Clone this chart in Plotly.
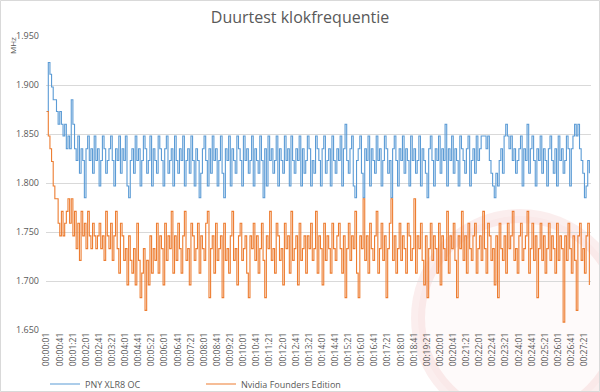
import plotly.graph_objects as go

pny_xlr8_oc = [
    1873, 1923, 1911, 1898, 1885, 1885, 1873, 1860, 1873, 1860, 1848, 1860, 1835, 1848, 1835, 1885, 1860, 1835,
    1823, 1848, 1810, 1835, 1823, 1785, 1835, 1848, 1823, 1835, 1810, 1848, 1823, 1835, 1797, 1823, 1848, 1835, 1810, 1823, 1835, 1848, 1823, 1797, 1835, 1823, 1848, 1810,
    1835, 1823, 1848, 1797, 1785, 1823, 1835, 1810, 1848, 1823, 1835, 1797, 1823, 1848, 1835, 1810, 1823, 1848, 1797, 1835,
    1823, 1810, 1848, 1835, 1823, 1797, 1835, 1848, 1810, 1823, 1835, 1797, 1848, 1823, 1810, 1835, 1823, 1848, 1797, 1823,
    1835, 1810, 1848, 1823, 1797, 1835, 1823, 1785, 1810, 1835, 1848, 1823, 1797, 1835, 1810, 1848, 1823, 1835, 1797, 1823,
    1848, 1810, 1785, 1835, 1823, 1848, 1797, 1835, 1823, 1810, 1848, 1835, 1823, 1797, 1848, 1823, 1835, 1810, 1823, 1848,
    1797, 1835, 1823, 1810, 1848, 1823, 1785, 1835, 1797, 1848, 1823, 1835, 1810, 1823, 1848, 1797, 1835, 1823, 1810, 1848,
    1823, 1835, 1797, 1848, 1823, 1810, 1835, 1823, 1848, 1797, 1835, 1810, 1823, 1848, 1835, 1797, 1823, 1810, 1848, 1835,
    1823, 1797, 1835, 1848, 1810, 1823, 1835, 1797, 1848, 1823, 1810, 1835, 1823, 1848, 1797, 1835, 1860, 1823, 1810, 1835,
    1848, 1797, 1785, 1823, 1835, 1848, 1810, 1785, 1835, 1823, 1848, 1797, 1835, 1823, 1810, 1848, 1823, 1835, 1797, 1823,
    1848, 1835, 1810, 1823, 1785, 1835, 1848, 1823, 1797, 1835, 1823, 1848, 1810, 1835, 1823, 1797, 1848, 1823, 1835, 1810,
    1823, 1848, 1797, 1835, 1823, 1810, 1785, 1835, 1848, 1823, 1797, 1835, 1823, 1848, 1810, 1835, 1823, 1860, 1797, 1835,
    1823, 1848, 1810, 1835, 1823, 1797, 1848, 1835, 1823, 1810, 1835, 1848, 1797, 1823, 1835, 1810, 1848, 1823, 1835, 1848,
    1848, 1848, 1835, 1848, 1823, 1810, 1797, 1785, 1810, 1797, 1823, 1835, 1810, 1848, 1860, 1848, 1835, 1848, 1823, 1835,
    1810, 1823, 1835, 1848, 1797, 1835, 1823, 1860, 1810, 1835, 1848, 1823, 1797, 1835, 1823, 1848, 1810, 1835, 1823, 1797,
    1835, 1848, 1823, 1810, 1835, 1797, 1848, 1823, 1835, 1810, 1823, 1848, 1835, 1797, 1835, 1848, 1860, 1848, 1860, 1835,
    1823, 1810, 1785, 1797, 1823, 1810,
]

nvidia_founders = [
    1873, 1848, 1835, 1822, 1797, 1784, 1784, 1759, 1746, 1771, 1746, 1759, 1771, 1784, 1759, 1784, 1746, 1771,
    1733, 1759, 1721, 1771, 1746, 1759, 1733, 1771, 1746, 1733, 1759, 1746, 1733, 1746, 1759, 1733, 1746, 1721, 1771, 1746,
    1733, 1759, 1721, 1746, 1771, 1733, 1708, 1759, 1746, 1721, 1733, 1696, 1746, 1721, 1708, 1733, 1696, 1759, 1721, 1683,
    1708, 1733, 1670, 1721, 1696, 1746, 1708, 1733, 1721, 1759, 1708, 1746, 1733, 1696, 1759, 1721, 1746, 1733, 1771, 1708,
    1746, 1721, 1759, 1733, 1708, 1746, 1771, 1721, 1733, 1696, 1759, 1746, 1721, 1733, 1759, 1708, 1746, 1733, 1721, 1759,
    1771, 1683, 1733, 1746, 1708, 1759, 1721, 1733, 1746, 1683, 1759, 1721, 1733, 1708, 1746, 1771, 1721, 1733, 1696, 1746,
    1759, 1721, 1733, 1746, 1708, 1683, 1746, 1733, 1759, 1721, 1746, 1708, 1733, 1759, 1721, 1683, 1746, 1733, 1771, 1721,
    1733, 1708, 1759, 1746, 1721, 1733, 1696, 1759, 1733, 1746, 1708, 1771, 1721, 1733, 1746, 1696, 1759, 1721, 1733, 1746,
    1708, 1746, 1733, 1759, 1721, 1733, 1771, 1708, 1746, 1733, 1696, 1759, 1721, 1746, 1733, 1708, 1759, 1733, 1721, 1746,
    1759, 1733, 1708, 1746, 1683, 1733, 1759, 1721, 1746, 1733, 1771, 1708, 1683, 1746, 1733, 1784, 1721, 1746, 1708, 1759,
    1733, 1721, 1746, 1771, 1708, 1733, 1759, 1721, 1746, 1683, 1733, 1759, 1784, 1721, 1746, 1708, 1733, 1759, 1721, 1746,
    1733, 1708, 1759, 1746, 1721, 1733, 1784, 1708, 1746, 1733, 1759, 1721, 1696, 1746, 1683, 1733, 1759, 1721, 1746, 1733,
    1708, 1759, 1696, 1746, 1733, 1721, 1771, 1708, 1746, 1733, 1759, 1721, 1683, 1746, 1733, 1771, 1721, 1746, 1708, 1759,
    1733, 1721, 1746, 1759, 1708, 1733, 1746, 1721, 1771, 1733, 1708, 1759, 1746, 1721, 1733, 1696, 1746, 1683, 1759, 1733,
    1721, 1746, 1708, 1759, 1733, 1746, 1771, 1721, 1733, 1708, 1746, 1759, 1721, 1733, 1746, 1771, 1708, 1733, 1759, 1721,
    1746, 1683, 1733, 1759, 1721, 1746, 1708, 1733, 1759, 1721, 1746, 1733, 1708, 1759, 1721, 1746, 1733, 1658, 1746, 1721,
    1759, 1733, 1708, 1746, 1721, 1670, 1746, 1759, 1721, 1733, 1708, 1746, 1759, 1696,
]

sample_step_s = 5
pny_seconds = [1 + sample_step_s * k for k in range(len(pny_xlr8_oc))]
nvidia_seconds = [1 + sample_step_s * k for k in range(len(nvidia_founders))]

tick_seconds = [1, 41, 81, 121, 161, 201, 241, 281, 321, 361, 401, 441, 481, 521,
                561, 601, 641, 681, 721, 761, 801, 841, 881, 921, 961, 1001, 1041,
                1081, 1121, 1161, 1201, 1241, 1281, 1321, 1361, 1401, 1441, 1481,
                1521, 1561, 1601, 1641]
tick_labels = ["00:00:01", "00:00:41", "00:01:21", "00:02:01", "00:02:41", "00:03:21",
               "00:04:01", "00:04:41", "00:05:21", "00:06:01", "00:06:41", "00:07:21",
               "00:08:01", "00:08:41", "00:09:21", "00:10:01", "00:10:41", "00:11:21",
               "00:12:01", "00:12:41", "00:13:21", "00:14:01", "00:14:41", "00:15:21",
               "00:16:01", "00:16:41", "00:17:21", "00:18:01", "00:18:41", "00:19:21",
               "00:20:01", "00:20:41", "00:21:21", "00:22:01", "00:22:41", "00:23:21",
               "00:24:01", "00:24:41", "00:25:21", "00:26:01", "00:26:41", "00:27:21"]

y_ticks = [1650, 1700, 1750, 1800, 1850, 1900, 1950]

# ---- layout geometry helpers (pixels -> paper) ----
W, H = 600, 392
L, R, T, B = 46, 9, 36, 62
PW, PH = W - L - R, H - T - B


def px(x):
    return (x - L) / PW


def py(y):
    return (H - B - y) / PH


TXT = "#595959"
FONT = "Open Sans, Noto Sans, Arial, sans-serif"

fig = go.Figure()
fig.add_trace(go.Scatter(x=pny_seconds, y=pny_xlr8_oc, mode="lines", name="PNY XLR8 OC",
                         line=dict(color="#5B9BD5", width=1.1, shape="hv")))
fig.add_trace(go.Scatter(x=nvidia_seconds, y=nvidia_founders, mode="lines",
                         name="Nvidia Founders Edition",
                         line=dict(color="#ED7D31", width=1.1, shape="hv")))

shapes = [
    # faint watermark logo
    dict(type="circle", xref="paper", yref="paper", layer="below",
         x0=px(418), x1=px(622), y0=py(420), y1=py(216),
         fillcolor="rgba(205,40,40,0.025)", line=dict(color="rgba(205,40,40,0.08)", width=14)),
    # chart border
    dict(type="rect", xref="paper", yref="paper", layer="below",
         x0=px(0.5), x1=px(599.5), y0=py(391.5), y1=py(0.5),
         line=dict(color="#d9d9d9", width=1)),
]

fig.update_layout(
    width=W, height=H,
    margin=dict(l=L, r=R, t=T, b=B, autoexpand=False),
    paper_bgcolor="white", plot_bgcolor="rgba(0,0,0,0)",
    separators=",.",
    font=dict(family=FONT, color=TXT, size=9),
    title=dict(text="Duurtest klokfrequentie", x=0.5, xanchor="center",
               y=1 - 17 / H, yanchor="middle", yref="container",
               font=dict(size=16, color=TXT, family=FONT)),
    xaxis=dict(range=[-1, 1661], tickmode="array", tickvals=tick_seconds, ticktext=tick_labels,
               tickangle=-90, showgrid=False, zeroline=False, showline=False, automargin=False,
               ticks="", tickfont=dict(size=8.5, color=TXT)),
    yaxis=dict(range=[1650, 1950], tickmode="array", tickvals=y_ticks, tickformat=",d",
               showgrid=True, gridcolor="#d9d9d9", gridwidth=1, zeroline=False, automargin=False,
               showline=False, ticks="", ticklabelstandoff=6,
               tickfont=dict(size=9, color=TXT)),
    legend=dict(orientation="h", x=px(45), xanchor="left", y=py(384), yanchor="middle",
                entrywidth=111, entrywidthmode="pixels", font=dict(size=9, color=TXT),
                bgcolor="rgba(0,0,0,0)"),
    annotations=[dict(text="MHz", xref="paper", yref="paper", x=px(12), y=py(46),
                      showarrow=False, textangle=-90, font=dict(size=8, color=TXT),
                      xanchor="center", yanchor="middle")],
    shapes=shapes,
    showlegend=True,
)

fig.write_html("out.html", config={"displayModeBar": False},
               post_script="document.body.style.margin='0';document.body.style.overflow='hidden';")
